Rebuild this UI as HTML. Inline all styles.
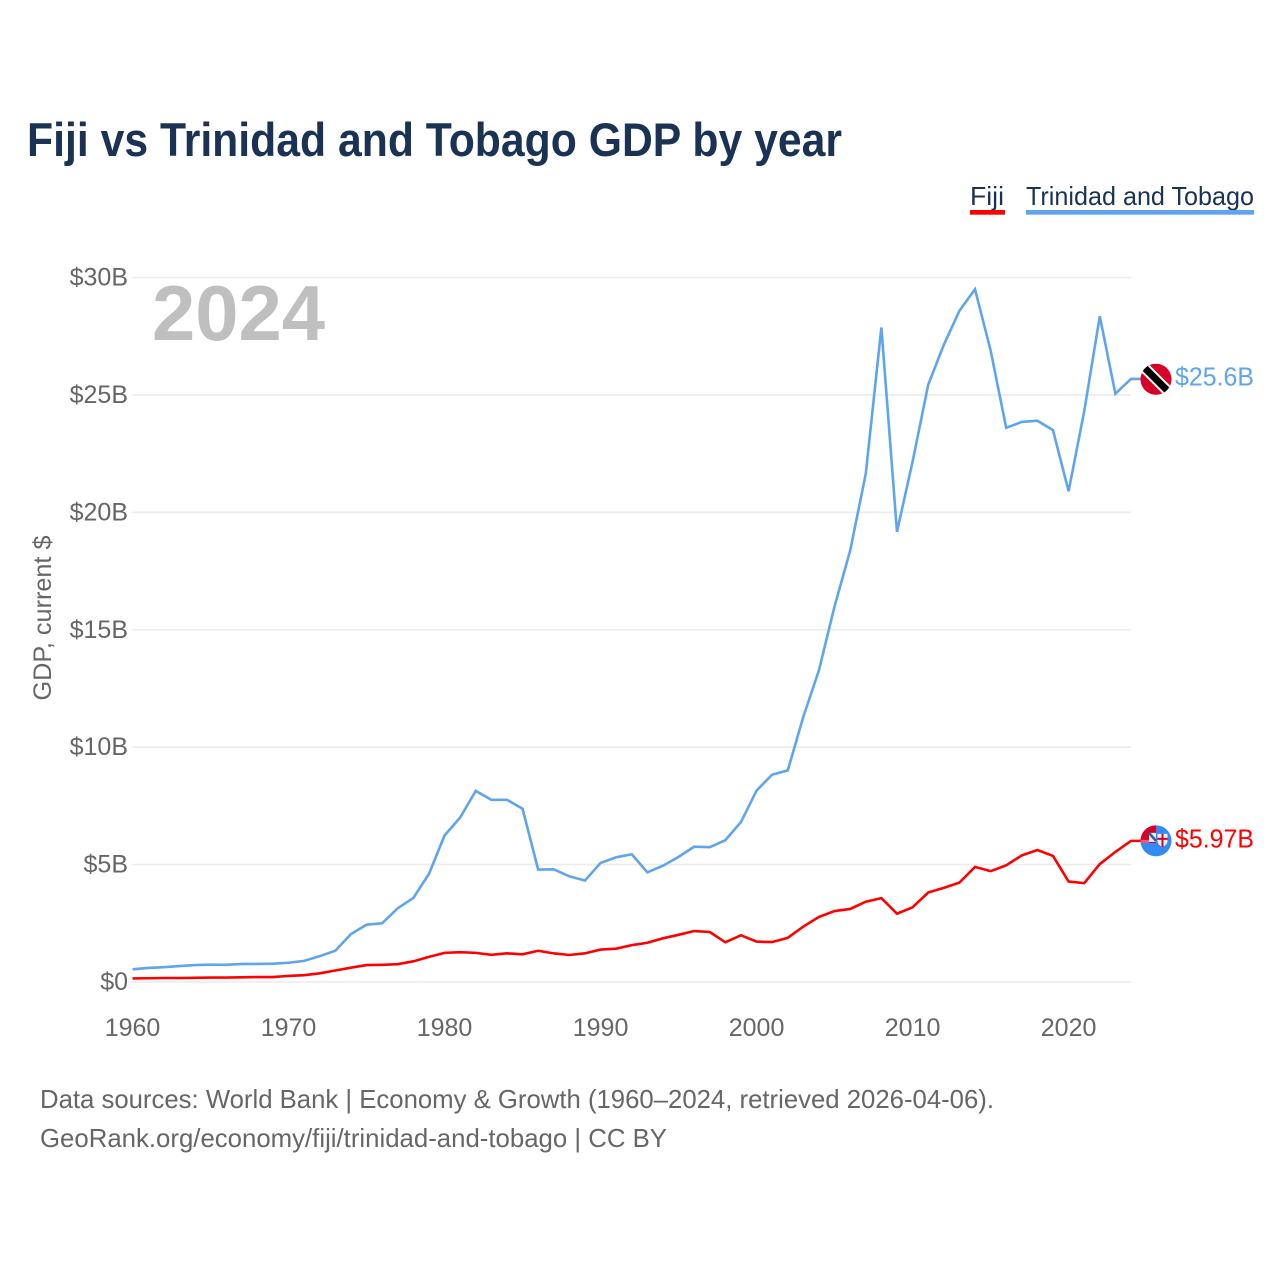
<!DOCTYPE html>
<html lang="en">
<head>
<meta charset="utf-8">
<title>Fiji vs Trinidad and Tobago GDP by year</title>
<style>
html,body{margin:0;padding:0;background:#fff;}
svg{display:block;font-family:"Liberation Sans",sans-serif;}
</style>
</head>
<body>
<svg id="chart" width="1280" height="1280" viewBox="0 0 1280 1280" xmlns="http://www.w3.org/2000/svg">
  <defs>
    <clipPath id="flag-clip-tt"><circle cx="0" cy="0" r="15.5"/></clipPath>
    <clipPath id="flag-clip-fj"><circle cx="0" cy="0" r="15.5"/></clipPath>
  </defs>
  <rect width="1280" height="1280" fill="#fff"/>
  <text x="27" y="156" font-size="47" font-weight="700" fill="#1a3355" textLength="815" lengthAdjust="spacingAndGlyphs">Fiji vs Trinidad and Tobago GDP by year</text>

  <g>
    <g>
      <text x="970" y="205" font-size="26" fill="#1a3355" textLength="34" lengthAdjust="spacingAndGlyphs">Fiji</text>
      <rect x="970" y="210" width="35" height="4.7" fill="#ff0000"/>
    </g>
    <g>
      <text x="1026" y="205" font-size="26" fill="#1a3355" textLength="228" lengthAdjust="spacingAndGlyphs">Trinidad and Tobago</text>
      <rect x="1026" y="210" width="228" height="4.7" fill="#5ea5ee"/>
    </g>
  </g>

  <g id="grid"></g>
  <g id="yticks"></g>
  <g id="xticks"></g>

  <text transform="translate(51,618) rotate(-90)" text-anchor="middle" font-size="25" fill="#666" textLength="165" lengthAdjust="spacingAndGlyphs">GDP, current $</text>
  <text x="152" y="340" font-size="78" font-weight="700" fill="#bfbfbf" textLength="173" lengthAdjust="spacingAndGlyphs">2024</text>

  <g id="series"></g>

  <g id="flag-tt">
    <g clip-path="url(#flag-clip-tt)">
      <rect x="-16" y="-16" width="32" height="32" fill="#d80027"/>
      <path d="M-20,-20 L20,20" stroke="#fff" stroke-width="11"/>
      <path d="M-20,-20 L20,20" stroke="#000" stroke-width="7"/>
    </g>
  </g>
  <g id="flag-fj">
    <g clip-path="url(#flag-clip-fj)">
      <rect x="-16" y="-16" width="32" height="32" fill="#338af3"/>
      <rect x="-16" y="-16" width="16" height="18" fill="#d80027"/>
      <rect x="-7" y="-8" width="7" height="9" fill="#f0f0f0"/>
      <rect x="-16" y="-1" width="9" height="3" fill="#e8607a"/>
      <path d="M-7,-8 L0,0" stroke="#2a5fa8" stroke-width="2.5"/>
      <path d="M1.5,-7 H11.5 V0 Q11.5,4 6.5,6 Q1.5,4 1.5,0 Z" fill="#f0f0f0"/>
      <path d="M6.5,-7 V6 M1.5,-2 H11.5" stroke="#d80027" stroke-width="2"/>
    </g>
  </g>
  <g id="endlabels"></g>

  <text x="40" y="1108" font-size="26" fill="#666" textLength="954" lengthAdjust="spacingAndGlyphs">Data sources: World Bank | Economy &amp; Growth (1960–2024, retrieved 2026-04-06).</text>
  <text x="40" y="1147" font-size="26" fill="#666" textLength="627" lengthAdjust="spacingAndGlyphs">GeoRank.org/economy/fiji/trinidad-and-tobago | CC BY</text>
</svg>
<script>
const startYear = 1960;
const endYear = 2024;
const yTickValues = [0, 5, 10, 15, 20, 25, 30];
const yTickLabels = ["$0", "$5B", "$10B", "$15B", "$20B", "$25B", "$30B"];
const xTickYears = [1960, 1970, 1980, 1990, 2000, 2010, 2020];
const fijiValues = [0.15,0.16,0.17,0.17,0.18,0.19,0.19,0.20,0.21,0.21,0.26,0.29,0.37,0.49,0.61,0.72,0.73,0.76,0.88,1.07,1.24,1.27,1.24,1.16,1.22,1.18,1.33,1.22,1.15,1.22,1.38,1.42,1.57,1.67,1.86,2.01,2.17,2.13,1.69,1.99,1.72,1.70,1.88,2.36,2.77,3.02,3.11,3.42,3.57,2.91,3.18,3.81,4.01,4.23,4.90,4.72,4.97,5.39,5.62,5.37,4.28,4.21,5.02,5.54,6.01];
const trinidadValues = [0.54,0.60,0.63,0.68,0.72,0.74,0.73,0.77,0.77,0.78,0.82,0.90,1.10,1.33,2.04,2.44,2.50,3.14,3.58,4.60,6.24,7.00,8.14,7.76,7.76,7.38,4.79,4.80,4.50,4.32,5.07,5.31,5.44,4.67,4.95,5.33,5.76,5.74,6.04,6.81,8.15,8.83,9.01,11.30,13.28,16.00,18.37,21.64,27.87,19.17,22.16,25.43,27.13,28.58,29.50,26.90,23.60,23.85,23.90,23.50,20.90,24.30,28.35,25.05,25.68];
const fijiEndLabel = "$5.97B";
const trinidadEndLabel = "$25.6B";

const NS = "http://www.w3.org/2000/svg";
const plotLeft = 132.5, plotRight = 1131, plotBottom = 982, plotTop = 277.5, yMax = 30;
const leaderEnd = 1141;
const xScale = function (year) { return plotLeft + (year - startYear) * (plotRight - plotLeft) / (endYear - startYear); };
const yScale = function (v) { return plotBottom - v * (plotBottom - plotTop) / yMax; };
function make(tag, attrs, parent, text) {
  const el = document.createElementNS(NS, tag);
  Object.keys(attrs).forEach(function (k) { el.setAttribute(k, attrs[k]); });
  if (text !== undefined) el.textContent = text;
  parent.appendChild(el);
  return el;
}

const gridGroup = document.getElementById("grid");
const yTickGroup = document.getElementById("yticks");
const xTickGroup = document.getElementById("xticks");
const seriesGroup = document.getElementById("series");
const endGroup = document.getElementById("endlabels");

yTickValues.forEach(function (v, i) {
  const line = make("line", {x1: plotLeft, x2: plotRight, y1: yScale(v), y2: yScale(v), stroke: "#ebebeb", "stroke-width": 1.6}, gridGroup);
  
  
  const label = make("text", {x: 128, y: yScale(v) + 8, "text-anchor": "end", "font-size": 25, fill: "#666"}, yTickGroup, yTickLabels[i]);
  
  
});

xTickYears.forEach(function (year) {
  const label = make("text", {x: xScale(year), y: 1036, "text-anchor": "middle", "font-size": 25, fill: "#666"}, xTickGroup, String(year));
  
  
});

function linePath(values) {
  const pts = values.map(function (v, i) { return xScale(startYear + i).toFixed(2) + "," + yScale(v).toFixed(2); });
  const last = yScale(values[values.length - 1]).toFixed(2);
  return "M" + pts.join(" L") + " L" + leaderEnd + "," + last;
}

const trinidadLine = make("path", {d: linePath(trinidadValues), fill: "none", stroke: "#5ea5ee", "stroke-width": 2.6, "stroke-linejoin": "miter"}, seriesGroup);


const fijiLine = make("path", {d: linePath(fijiValues), fill: "none", stroke: "#ff0000", "stroke-width": 2.6, "stroke-linejoin": "miter"}, seriesGroup);



const ttY = yScale(trinidadValues[trinidadValues.length - 1]);
const fjY = yScale(fijiValues[fijiValues.length - 1]);
document.getElementById("flag-tt").setAttribute("transform", "translate(1156," + (ttY + 0.3) + ")");
document.getElementById("flag-fj").setAttribute("transform", "translate(1156," + fjY + ")");

const ttLabel = make("text", {x: 1175, y: ttY + 6.4, "font-size": 25.5, fill: "#5ea5ee", textLength: 79, lengthAdjust: "spacingAndGlyphs"}, endGroup, trinidadEndLabel);


const fjLabel = make("text", {x: 1175, y: fjY + 6.4, "font-size": 25.5, fill: "#ff0000", textLength: 79, lengthAdjust: "spacingAndGlyphs"}, endGroup, fijiEndLabel);


</script>
</body>
</html>
